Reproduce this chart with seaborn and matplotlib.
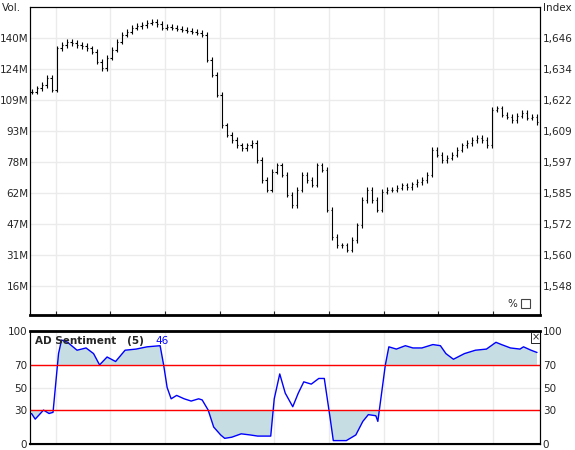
import numpy as np
import pandas as pd
import matplotlib
matplotlib.use("Agg")
import matplotlib.pyplot as plt
import seaborn as sns

close = [1624.7,1626.2,1627.4,1630.2,1625.5,1642.0,1643.2,1644.4,1644.0,1643.2,1642.8,1642.0,1640.5,1636.5,1634.1,1638.1,1641.3,1644.4,1647.2,1648.4,
         1650.0,1650.7,1651.1,1651.9,1652.3,1651.5,1650.0,1650.3,1650.0,1649.6,1649.2,1648.8,1648.4,1648.0,1647.2,1637.3,1631.4,1623.5,1611.6,1607.7,
         1605.7,1603.7,1602.5,1603.7,1604.5,1597.8,1589.9,1586.0,1593.1,1595.8,1591.9,1584.0,1580.0,1586.0,1591.9,1589.9,1588.0,1595.8,1593.9,1578.1,
         1567.4,1564.2,1564.2,1562.3,1566.2,1572.1,1582.0,1586.0,1582.0,1578.1,1585.2,1586.0,1586.0,1586.8,1587.9,1587.1,1588.3,1589.1,1589.9,1591.9,
         1601.8,1599.8,1597.8,1598.6,1599.8,1601.8,1603.7,1604.5,1605.7,1606.5,1605.7,1603.7,1617.6,1618.3,1615.6,1614.8,1613.6,1615.2,1616.4,1614.4,
         1614.8,1612.8]
ad_x = [0,0.74,2.4,3.5,4.3,5.4,6.0,7.2,9.1,10.9,12.4,13.6,15.1,16.8,18.7,20.9,23.1,25.7,26.4,27.1,27.9,29.0,30.5,31.9,33.4,34.1,35.3,36.4,
        37.8,38.6,40.0,41.9,43.7,45.2,47.8,48.5,49.6,50.7,52.2,53.3,54.4,55.9,57.4,58.5,59.6,60.3,62.9,64.8,66.2,67.3,68.8,69.2,70.7,71.4,
        72.9,74.7,76.2,78.0,80.2,81.7,82.8,84.3,86.5,88.7,90.9,92.8,93.9,95.7,97.6,98.3,99.8,101]
ad_val = [27,22,30,27,28,80,92,90,83,85,80,70,77,73,83,84,86,87,70,50,40,43,40,38,40,39,30,15,
          8,5,6,9,8,7,7,40,62,45,33,45,55,53,58,58,25,3,3,8,20,26,25,20,70,86,
          84,87,85,85,88,87,80,75,80,83,84,90,88,85,84,86,83,81]
price_ticks = ["1,548","1,560","1,572","1,585","1,597","1,609","1,622","1,634","1,646"]
vol_ticks = ["16M","31M","47M","62M","78M","93M","109M","124M","140M"]
sent_ticks = [0,30,50,70,100]
last_val = "46"

sns.set_style("white")
plt.rcParams['font.family'] = ['DejaVu Sans']
FS = 7.5
fig = plt.figure(figsize=(5.75,4.5), dpi=100)
ax1 = fig.add_axes([30/575, 1-315/450, 510/575, 308/450])
ax2 = fig.add_axes([30/575, 1-444/450, 510/575, 113/450])

xg = [4.8,15.6,26.6,37.6,48.4,59.4,70.4,81.2,92.2]
xlim = (-0.3, 101.6)
gridc = '#ebebeb'

# price panel
n = len(close)
idx = np.arange(n)
op = [close[0]] + close[:-1]
hi = np.maximum(op, close) + 1.0
lo = np.minimum(op, close) - 1.0
ax1.vlines(idx, lo, hi, color='black', lw=0.8)
ax1.hlines(op, idx-0.25, idx, color='black', lw=0.8)
ax1.hlines(close, idx, idx+0.25, color='black', lw=0.8)
ax1.set_xlim(*xlim)
ax1.set_ylim(1536.6, 1658.2)
pt = np.linspace(1548,1646,9)
ax1.set_yticks(pt)
ax1.set_yticklabels(vol_ticks, fontsize=FS)
ax1.tick_params(axis='y', length=0, pad=1)
ax1.set_xticks(xg)
ax1.set_xticklabels([])
ax1.tick_params(axis='x', length=3, direction='in', bottom=True)
axr = ax1.twinx()
axr.set_ylim(ax1.get_ylim())
axr.set_yticks(pt)
axr.set_yticklabels(price_ticks, fontsize=FS)
axr.tick_params(axis='y', length=0, pad=2)
ax1.grid(True, color=gridc, lw=1)
ax1.set_axisbelow(True)
for a in (ax1, axr):
    for s in a.spines.values():
        s.set_color('black'); s.set_linewidth(0.8)
ax1.spines['bottom'].set_linewidth(2)
fig.text(2/575, 1-8/450, "Vol.", fontsize=FS, va='center')
fig.text(543/575, 1-8/450, "Index", fontsize=FS, va='center')
ax1.text(0.955, 0.02, "%", transform=ax1.transAxes, fontsize=FS, ha='right', va='bottom')
ax1.add_patch(plt.Rectangle((0.962, 0.022), 0.018, 0.03, transform=ax1.transAxes,
                            fill=False, lw=0.8, ec='#444444'))

# sentiment panel
df = pd.DataFrame({"x": ad_x, "v": ad_val})
sns.lineplot(data=df, x="x", y="v", ax=ax2, color='#0000ff', lw=1)
xs = np.array(ad_x, float); vs = np.array(ad_val, float)
xf = np.linspace(xs[0], xs[-1], 2000); vf = np.interp(xf, xs, vs)
ax2.fill_between(xf, vf, 70, where=vf>=70, color='#c5dde3', lw=0)
ax2.fill_between(xf, vf, 30, where=vf<=30, color='#c5dde3', lw=0)
ax2.axhline(70, color='red', lw=1)
ax2.axhline(30, color='red', lw=1)
ax2.set_xlim(*xlim); ax2.set_ylim(0, 100)
ax2.set_xlabel(""); ax2.set_ylabel("")
ax2.set_yticks(sent_ticks)
ax2.set_yticklabels([str(t) for t in sent_ticks], fontsize=FS)
ax2.tick_params(axis='y', length=0, pad=2)
ax2.set_xticks(xg); ax2.set_xticklabels([])
ax2.tick_params(axis='x', length=0)
ax2.grid(True, color=gridc, lw=1)
ax2.set_axisbelow(True)
ar2 = ax2.twinx()
ar2.set_ylim(0, 100); ar2.set_yticks(sent_ticks)
ar2.set_yticklabels([str(t) for t in sent_ticks], fontsize=FS)
ar2.tick_params(axis='y', length=0, pad=2)
for a in (ax2, ar2):
    for s in a.spines.values():
        s.set_color('black'); s.set_linewidth(0.8)
ax2.spines['top'].set_linewidth(2)
ax2.spines['bottom'].set_linewidth(1.5)
ax2.text(0.01, 0.96, "AD Sentiment   (5)", transform=ax2.transAxes, fontsize=FS,
         fontweight='bold', va='top')
ax2.text(0.245, 0.96, last_val, transform=ax2.transAxes, fontsize=FS, color='#0000ff', va='top')
ax2.text(0.991, 0.985, "×", transform=ax2.transAxes, fontsize=7, ha='center', va='top',
         bbox=dict(boxstyle='square,pad=0.05', fc='white', ec='black', lw=0.6))
fig.savefig("out.png", dpi=100)
